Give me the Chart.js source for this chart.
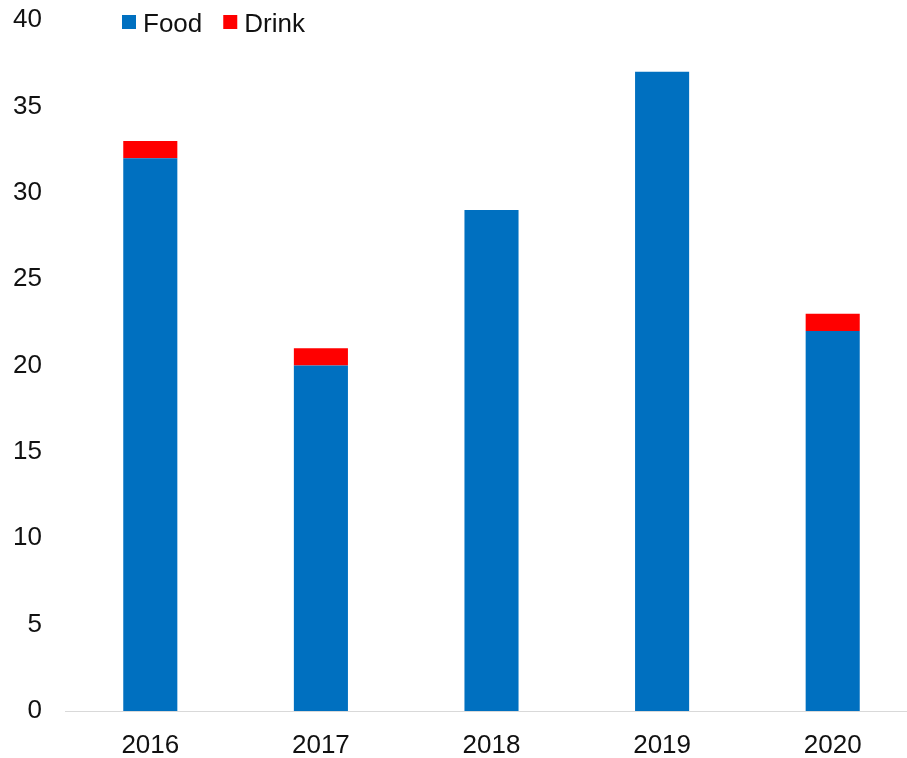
<!DOCTYPE html>
<html>
<head>
  <meta charset="utf-8">
  <title>Food and Drink</title>
  <script src="https://cdn.jsdelivr.net/npm/chart.js"></script>
  <style>
    body {
      margin: 0;
      overflow: hidden;
      background: #fff;
    }
    #wrap {
      width: 918px;
      height: 758px;
    }
  </style>
</head>
<body>
  <div id="wrap">
    <canvas id="barChart" width="918" height="758"></canvas>
  </div>

  <script>
    // ------------------- DATA --------------------
    const years = ['2016', '2017', '2018', '2019', '2020'];
    const foodValues = [32, 20, 29, 37, 22];
    const drinkValues = [1, 1, 0, 0, 1];

    const FONT = "'Liberation Sans', Arial, sans-serif";
    const TEXT_COLOR = '#111';

    // Legend drawn inline above the plot, left side
    const inlineLegend = {
      id: 'inlineLegend',
      afterDraw(chart) {
        const ctx = chart.ctx;
        ctx.save();
        ctx.font = '26px ' + FONT;
        ctx.textBaseline = 'alphabetic';
        ctx.textAlign = 'left';
        let x = 122;
        chart.data.datasets.forEach((ds) => {
          ctx.fillStyle = ds.backgroundColor;
          ctx.fillRect(x, 15, 14, 14);
          ctx.fillStyle = TEXT_COLOR;
          ctx.fillText(ds.label, x + 21, 32);
          x += 21 + ctx.measureText(ds.label).width + 21;
        });
        ctx.restore();
      }
    };

    // ------------------- CHART --------------------
    const barChart = new Chart(document.getElementById('barChart'), {
      type: 'bar',
      data: {
        labels: years,
        datasets: [
          {
            label: 'Food',
            data: foodValues,
            backgroundColor: '#0070C0',
            borderWidth: 0,
            barPercentage: 1,
            categoryPercentage: 0.317
          },
          {
            label: 'Drink',
            data: drinkValues,
            backgroundColor: '#FF0000',
            borderWidth: 0,
            barPercentage: 1,
            categoryPercentage: 0.317
          }
        ]
      },
      options: {
        responsive: false,
        animation: false,
        layout: {
          padding: { top: 20, right: 0, bottom: 0, left: 0 }
        },
        plugins: {
          legend: { display: false },
          tooltip: { enabled: false }
        },
        scales: {
          x: {
            stacked: true,
            grid: { display: false, drawTicks: false },
            border: { display: true, color: '#d9d9d9', width: 1 },
            ticks: {
              color: TEXT_COLOR,
              font: { family: FONT, size: 26 },
              padding: 19,
              maxRotation: 0
            },
            afterFit: (scale) => {
              scale.height = 47;
              scale.paddingLeft = 0;
              scale.paddingRight = 0;
            }
          },
          y: {
            stacked: true,
            min: 0,
            max: 40,
            grid: { display: false, drawTicks: false },
            border: { display: false },
            ticks: {
              stepSize: 5,
              color: TEXT_COLOR,
              font: { family: FONT, size: 26 },
              padding: 23
            },
            afterFit: (scale) => {
              scale.width = 65;
              scale.paddingTop = 0;
              scale.paddingBottom = 0;
            }
          }
        }
      },
      plugins: [inlineLegend]
    });
  </script>
</body>
</html>
